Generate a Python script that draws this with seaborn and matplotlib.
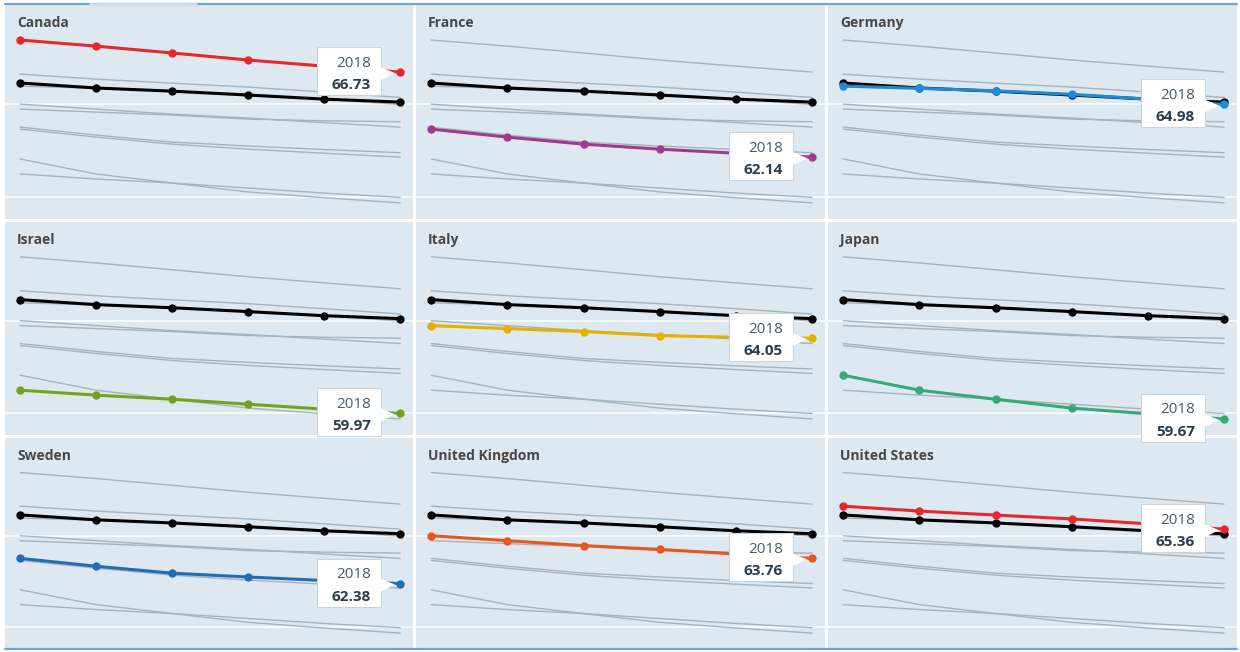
import matplotlib
matplotlib.use("Agg")
import matplotlib.pyplot as plt
import matplotlib.patches as mpatches
from matplotlib.lines import Line2D
from matplotlib.transforms import IdentityTransform
import numpy as np
import pandas as pd
import seaborn as sns

# working-age population share (% of total), 2013-2018
years = [2013, 2014, 2015, 2016, 2017, 2018]

oecd = [66.14, 65.87, 65.70, 65.49, 65.27, 65.11]

canada = [68.46, 68.13, 67.76, 67.38, 67.05, 66.73]
france = [63.65, 63.22, 62.84, 62.57, 62.35, 62.14]
germany = [65.97, 65.85, 65.72, 65.53, 65.27, 64.98]
israel = [61.23, 60.96, 60.74, 60.47, 60.20, 59.97]
italy = [64.73, 64.57, 64.41, 64.19, 64.10, 64.05]
japan = [62.04, 61.23, 60.74, 60.26, 59.95, 59.67]
sweden = [63.76, 63.33, 62.95, 62.74, 62.55, 62.38]
uk = [65.00, 64.73, 64.46, 64.25, 64.00, 63.76]
us = [66.62, 66.35, 66.13, 65.92, 65.65, 65.36]

countries = ["Canada", "France", "Germany", "Israel", "Italy", "Japan",
             "Sweden", "United Kingdom", "United States"]
series = [canada, france, germany, israel, italy, japan, sweden, uk, us]
colors = ["#e8262c", "#a0398f", "#1f8ad6", "#75a11f", "#e6b000", "#35a97a",
          "#1f6db5", "#e8561f", "#e8262c"]

df = pd.DataFrame([(c, y, v) for c, vals in zip(countries, series)
                   for y, v in zip(years, vals)],
                  columns=["country", "year", "value"])
df_oecd = pd.DataFrame({"year": years, "value": oecd})

sns.set_theme(style="white")
plt.rcParams["font.family"] = ["Open Sans", "DejaVu Sans"]

BG = "#dde8f0"
GREY = "#a7b3bc"

W, H = 1240, 652
fig = plt.figure(figsize=(W / 100, H / 100), dpi=100)
fig.patch.set_facecolor("white")

col_x = [5, 416, 828]
col_w = [408, 409, 409]
row_y = [5, 222, 438]
row_h = [214, 213, 211]

for i, (name, color) in enumerate(zip(countries, colors)):
    r, c = divmod(i, 3)
    left = col_x[c] / W
    bottom = 1 - (row_y[r] + row_h[r]) / H
    ax = fig.add_axes([left, bottom, col_w[c] / W, row_h[r] / H])
    ax.set_facecolor(BG)
    ax.set_xlim(2012.8, 2018.17)
    ax.set_ylim(58.8, 70.35)
    ax.set_yticks([60, 65])
    ax.set_xticks([])
    ax.grid(axis="y", color="white", lw=1.1)
    ax.set_axisbelow(True)
    ax.tick_params(left=False, labelleft=False, bottom=False, labelbottom=False)
    for s in ax.spines.values():
        s.set_visible(False)

    others = df[df["country"] != name]
    sns.lineplot(data=others, x="year", y="value", units="country",
                 estimator=None, color=GREY, lw=1.0, ax=ax, zorder=2)
    sns.lineplot(data=df_oecd, x="year", y="value", color="black", lw=2.2,
                 marker="o", markersize=6, markeredgewidth=0, ax=ax, zorder=3)
    own = df[df["country"] == name]
    sns.lineplot(data=own, x="year", y="value", color=color, lw=2.2,
                 marker="o", markersize=6, markeredgewidth=0, ax=ax, zorder=4)
    ax.set_xlabel("")
    ax.set_ylabel("")

    ax.annotate(name, xy=(0, 1), xycoords="axes fraction",
                xytext=(12, -18), textcoords="offset pixels",
                ha="left", va="center", fontsize=10, fontweight="bold",
                color="#474747")

    # tooltip for the last year
    fig.canvas.draw()
    px, py = ax.transData.transform((years[-1], own["value"].iloc[-1]))
    bx1 = px - 19
    bw, bh = 64, 48
    box = mpatches.Rectangle((bx1 - bw, py - bh / 2 + 1), bw, bh,
                             transform=IdentityTransform(), facecolor="white",
                             edgecolor="#c9d5de", lw=0.8, zorder=10)
    fig.add_artist(box)
    tri = mpatches.Polygon([(bx1 - 0.5, py + 5), (px - 5, py - 1),
                            (bx1 - 0.5, py - 8)], closed=True,
                           transform=IdentityTransform(), facecolor="white",
                           edgecolor="none", zorder=10)
    fig.add_artist(tri)
    fig.text(bx1 - 10, py + 9, str(years[-1]), transform=IdentityTransform(),
             ha="right", va="center", fontsize=11, color="#4c5b66", zorder=11)
    fig.text(bx1 - 10, py - 13, f"{own['value'].iloc[-1]:.2f}",
             transform=IdentityTransform(), ha="right", va="center",
             fontsize=11, fontweight="bold", color="#2b3c4c", zorder=11)

# frame lines at top and bottom
fig.add_artist(Line2D([5 / W, 1237 / W], [1 - 4 / H, 1 - 4 / H],
                      color="#6fa7d4", lw=1.6))
fig.add_artist(Line2D([90 / W, 196 / W], [1 - 4 / H, 1 - 4 / H],
                      color="#cfe0ec", lw=2.0))
fig.add_artist(Line2D([5 / W, 1237 / W], [1 - 649 / H, 1 - 649 / H],
                      color="#6fa7d4", lw=1.6))

fig.savefig("out.png", dpi=100, facecolor="white")
